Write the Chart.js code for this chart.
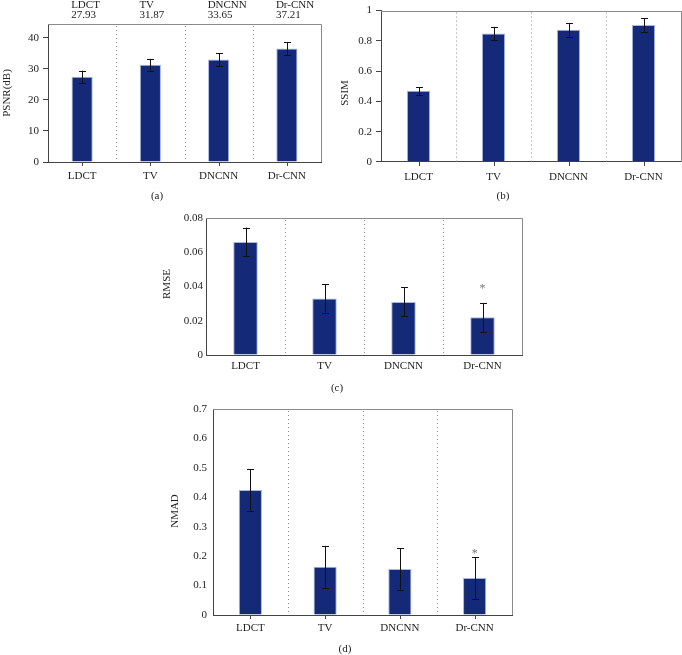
<!DOCTYPE html>
<html lang="en">
<head>
<meta charset="UTF-8">
<title>Dr-CNN image quality metrics</title>
<script src="https://cdn.jsdelivr.net/npm/chart.js"></script>
<style>
  html, body { margin: 0; padding: 0; background: #fff; }
  #wrap { position: relative; width: 682px; height: 655px; }
  #wrap canvas { position: absolute; left: 0; top: 0; }
</style>
</head>
<body>
<div id="wrap">
  <canvas id="chartA" width="682" height="655"></canvas>
  <canvas id="chartB" width="682" height="655"></canvas>
  <canvas id="chartC" width="682" height="655"></canvas>
  <canvas id="chartD" width="682" height="655"></canvas>
</div>
<script>
// categories
const methods = ['LDCT', 'TV', 'DNCNN', 'Dr-CNN'];

// (a) PSNR
const psnrMean = [27.4, 31.3, 33.0, 36.5];
const psnrErr = [2.0, 1.9, 2.0, 2.0];
const psnrReported = ['27.93', '31.87', '33.65', '37.21'];
const psnrTicks = [0, 10, 20, 30, 40];

// (b) SSIM
const ssimMean = [0.47, 0.849, 0.873, 0.905];
const ssimErr = [0.025, 0.044, 0.045, 0.046];
const ssimTicks = [0, 0.2, 0.4, 0.6, 0.8, 1];

// (c) RMSE
const rmseMean = [0.066, 0.033, 0.031, 0.022];
const rmseErr = [0.0084, 0.0083, 0.0085, 0.0084];
const rmseStar = [null, null, null, 0.040];
const rmseTicks = [0, 0.02, 0.04, 0.06, 0.08];

// (d) NMAD
const nmadMean = [0.425, 0.164, 0.156, 0.126];
const nmadErr = [0.07, 0.071, 0.07, 0.07];
const nmadStar = [null, null, null, 0.215];
const nmadTicks = [0, 0.1, 0.2, 0.3, 0.4, 0.5, 0.6, 0.7];

const FONT = "'Liberation Serif', 'DejaVu Serif', serif";
const BAR = '#142a78';
const Y_W = 40, X_H = 25;

// error bars, separators, box, titles
function makeDecor(p) {
  return {
    id: 'decor' + p.caption,
    beforeDatasetsDraw(chart) {
      const {ctx, chartArea: a, scales: {x}} = chart;
      ctx.save();
      ctx.lineWidth = 1;
      ctx.strokeStyle = '#8a8a8a';
      ctx.beginPath();
      ctx.moveTo(a.left, Math.round(a.top) + 0.5);
      ctx.lineTo(Math.round(a.right) + 0.5, Math.round(a.top) + 0.5);
      ctx.lineTo(Math.round(a.right) + 0.5, a.bottom);
      ctx.stroke();
      ctx.strokeStyle = '#8f8f8f';
      ctx.setLineDash([1, 3]);
      for (let i = 1; i < methods.length; i++) {
        const xs = Math.round((x.getPixelForValue(i - 1) + x.getPixelForValue(i)) / 2) + 0.5;
        ctx.beginPath();
        ctx.moveTo(xs, a.top + 2);
        ctx.lineTo(xs, a.bottom);
        ctx.stroke();
      }
      ctx.restore();
    },
    afterDatasetsDraw(chart) {
      const {ctx, chartArea: a, scales: {x, y}} = chart;
      ctx.save();
      ctx.strokeStyle = '#111';
      ctx.lineWidth = 1;
      p.mean.forEach((v, i) => {
        const cx = Math.round(x.getPixelForValue(i)) + 0.5;
        const yt = y.getPixelForValue(v + p.err[i]);
        const yb = y.getPixelForValue(v - p.err[i]);
        ctx.beginPath();
        ctx.moveTo(cx, yt); ctx.lineTo(cx, yb);
        ctx.moveTo(cx - 3.5, Math.round(yt) + 0.5); ctx.lineTo(cx + 3.5, Math.round(yt) + 0.5);
        ctx.moveTo(cx - 3.5, Math.round(yb) + 0.5); ctx.lineTo(cx + 3.5, Math.round(yb) + 0.5);
        ctx.stroke();
        if (p.xTick) {
          ctx.strokeStyle = '#444';
          ctx.beginPath();
          ctx.moveTo(cx, a.bottom); ctx.lineTo(cx, a.bottom + 4);
          ctx.stroke();
          ctx.strokeStyle = '#111';
        }
      });
      if (p.star) {
        ctx.fillStyle = '#777';
        ctx.font = '12px ' + FONT;
        ctx.textAlign = 'center';
        ctx.textBaseline = 'middle';
        p.star.forEach((s, i) => {
          if (s === null) return;
          ctx.fillText('*', x.getPixelForValue(i), y.getPixelForValue(s) + 2);
        });
      }
      ctx.restore();
    },
    afterDraw(chart) {
      const {ctx, scales: {x}} = chart;
      ctx.save();
      ctx.fillStyle = '#222';
      ctx.font = '11px ' + FONT;
      ctx.textBaseline = 'middle';
      ctx.textAlign = 'center';
      ctx.fillText(p.caption, p.capX, p.capY);
      ctx.save();
      ctx.translate(p.titleX, p.titleY);
      ctx.rotate(-Math.PI / 2);
      ctx.fillText(p.yTitle, 0, 0);
      ctx.restore();
      if (p.topLabels) {
        ctx.textAlign = 'left';
        methods.forEach((m, i) => {
          const lx = x.getPixelForValue(i) - 11;
          ctx.fillText(m, lx, 5);
          ctx.fillText(p.topLabels[i], lx, 15);
        });
      }
      ctx.restore();
    }
  };
}

function makeChart(id, p) {
  return new Chart(document.getElementById(id), {
    type: 'bar',
    data: {
      labels: methods,
      datasets: [{
        data: p.mean,
        backgroundColor: BAR,
        borderColor: 'rgba(150,168,220,0.85)',
        borderWidth: 1,
        borderSkipped: 'bottom',
        barPercentage: 0.31,
        categoryPercentage: 1
      }]
    },
    options: {
      responsive: false,
      animation: false,
      events: [],
      layout: {
        padding: {
          left: p.area.left - Y_W,
          top: p.area.top,
          right: 682 - p.area.right,
          bottom: 655 - p.area.bottom - X_H
        }
      },
      plugins: {legend: {display: false}, tooltip: {enabled: false}},
      scales: {
        x: {
          grid: {display: false, drawTicks: false},
          border: {color: '#444', width: 1},
          ticks: {
            font: {family: FONT, size: 11},
            color: '#222',
            padding: p.xPad,
            maxRotation: 0
          },
          afterFit: s => { s.height = X_H; }
        },
        y: {
          min: 0,
          max: p.max,
          grid: {drawOnChartArea: false, drawTicks: p.yTickLen > 0, tickLength: p.yTickLen, color: '#444'},
          border: {color: '#444', width: 1},
          ticks: {
            font: {family: FONT, size: 11},
            color: '#222',
            padding: p.yPad,
            callback: v => String(v)
          },
          afterBuildTicks: s => { s.ticks = p.ticks.map(v => ({value: v})); },
          afterFit: s => { s.width = Y_W; }
        }
      }
    },
    plugins: [makeDecor(p)]
  });
}

makeChart('chartA', {
  mean: psnrMean, err: psnrErr, ticks: psnrTicks, max: 44.4,
  area: {left: 48, top: 24, right: 321, bottom: 162},
  yTitle: 'PSNR(dB)', titleX: 7, titleY: 93,
  caption: '(a)', capX: 157, capY: 196,
  topLabels: psnrReported, xTick: true, xPad: 8, yTickLen: 5, yPad: 4
});
makeChart('chartB', {
  mean: ssimMean, err: ssimErr, ticks: ssimTicks, max: 1,
  area: {left: 381, top: 9, right: 681, bottom: 162},
  yTitle: 'SSIM', titleX: 345, titleY: 93,
  caption: '(b)', capX: 503, capY: 196,
  xTick: true, xPad: 9, yTickLen: 5, yPad: 4
});
makeChart('chartC', {
  mean: rmseMean, err: rmseErr, star: rmseStar, ticks: rmseTicks, max: 0.08,
  area: {left: 206, top: 218, right: 522, bottom: 355},
  yTitle: 'RMSE', titleX: 167, titleY: 284,
  caption: '(c)', capX: 337, capY: 388,
  xTick: false, xPad: 5, yTickLen: 0, yPad: 3
});
makeChart('chartD', {
  mean: nmadMean, err: nmadErr, star: nmadStar, ticks: nmadTicks, max: 0.7,
  area: {left: 213, top: 409, right: 512, bottom: 615},
  yTitle: 'NMAD', titleX: 175, titleY: 511,
  caption: '(d)', capX: 345, capY: 649,
  xTick: true, xPad: 7, yTickLen: 0, yPad: 6
});
</script>
</body>
</html>
